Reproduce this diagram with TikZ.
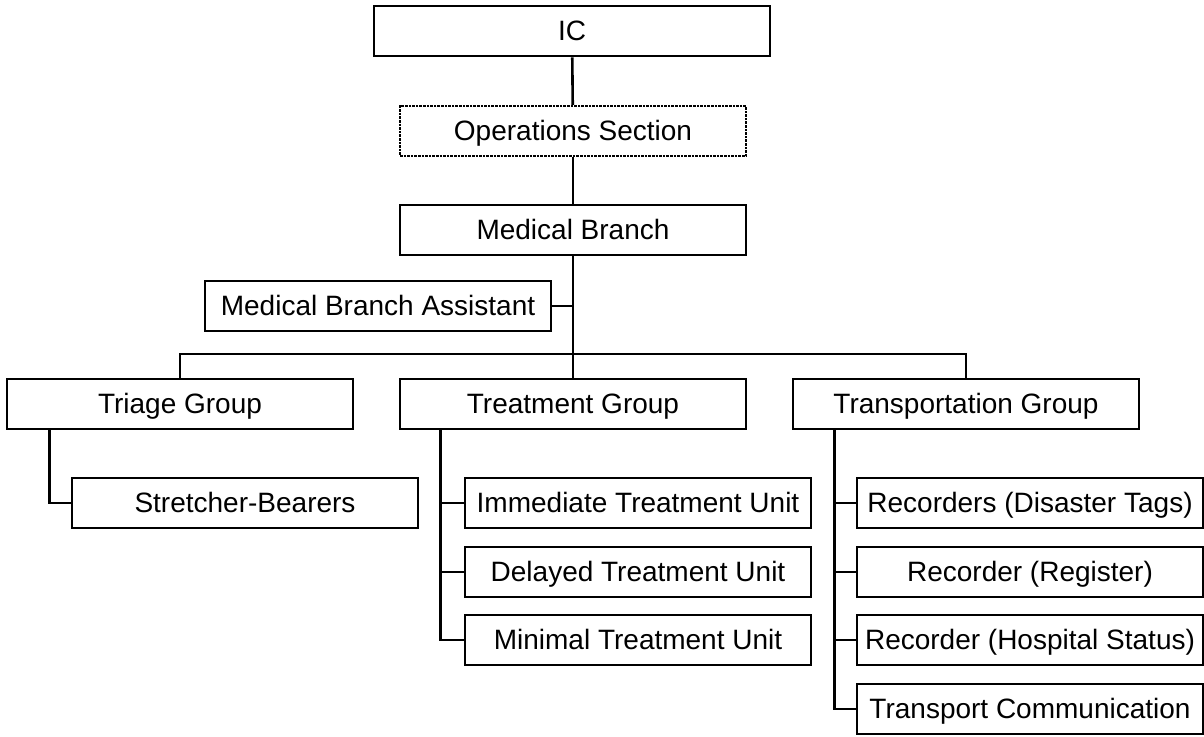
\documentclass[tikz,border=0pt]{standalone}
\usepackage{fontspec}
\setmainfont{Liberation Sans}
\usepackage{tikz}

\begin{document}
\begin{tikzpicture}[x=1pt,y=-1pt]
  \tikzset{box/.style = {shape=rectangle,draw,line width=2.6pt,minimum width=346pt,minimum height=50pt,inner sep=0pt,text height=24pt,text depth=6pt,font=\fontsize{28}{33}\selectfont}}
  \tikzset{link/.style = {draw,line width=2.6pt}}
  \useasboundingbox (0,0) rectangle (1204,736);
	\node[box,minimum width=396pt] (ic) at (572,31) {IC};
	\node[box,densely dotted,line width=2.2pt] (ops) at (573,131) {Operations Section};
	\node[box] (med) at (573,230) {Medical Branch};
	\node[box] (asst) at (378,306) {Medical Branch Assistant};
	\node[box] (tri) at (180,404) {Triage Group};
	\node[box] (tre) at (573,404) {Treatment Group};
	\node[box] (trp) at (966,404) {Transportation Group};
	\node[box] (sb) at (245,503) {Stretcher-Bearers};
	\node[box] (imm) at (638,503) {Immediate Treatment Unit};
	\node[box] (del) at (638,572) {Delayed Treatment Unit};
	\node[box] (min) at (638,640) {Minimal Treatment Unit};
	\node[box] (rdt) at (1030,503) {Recorders (Disaster Tags)};
	\node[box] (rrg) at (1030,572) {Recorder (Register)};
	\node[box] (rhs) at (1030,640) {Recorder (Hospital Status)};
	\node[box] (tco) at (1030,709) {Transport Communication};

	\coordinate (bar) at (573,354);

    \draw[link] (ic) -- (ops);
    \draw[link] (ops) -- (med);
    \draw[link] (med) -- (tre);
    \draw[link] (asst.east) -- (asst.east -| med.south);
    \draw[link] (tri.north) |- (bar) -| (trp.north);

    \draw[link] ([xshift=44pt]tri.south west) |- (sb.west);
    \foreach \to in {imm,del,min}
    \draw[link] ([xshift=42pt]tre.south west) |- (\to.west);
    \foreach \to in {rdt,rrg,rhs,tco}
    \draw[link] ([xshift=43pt]trp.south west) |- (\to.west);

\end{tikzpicture}
\end{document}
